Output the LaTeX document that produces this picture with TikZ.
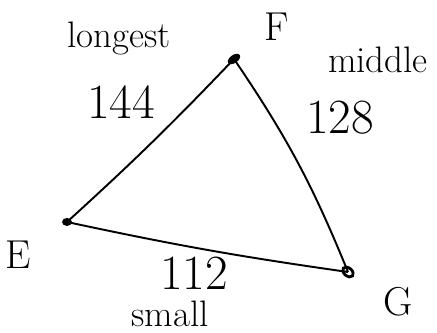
\documentclass[tikz,border=0pt]{standalone}
\tikzset{
  vlab/.style={font=\fontsize{23}{25}\selectfont,inner sep=1pt},
  num/.style={font=\fontsize{28}{30}\selectfont,inner sep=1pt},
  word/.style={font=\fontsize{21}{23}\selectfont,inner sep=1pt},
  side/.style={line width=1.1pt}
}
\begin{document}
\begin{tikzpicture}[x=0.02cm,y=-0.02cm]
  \useasboundingbox (0,0) rectangle (437,333);
  \coordinate (E) at (67,222);
  \coordinate (F) at (234,59);
  \coordinate (G) at (348,272);
  \draw[side] (E) to[bend right=2] (F);
  \draw[side] (F) to[bend left=6] (G);
  \draw[side] (G) to[bend left=2] (E);
  \fill (E) ellipse (5 and 4);
  \fill[rotate around={35:(F)}] (F) ellipse (7 and 4);
  \draw[line width=1.6pt,rotate around={-40:(G)}] (G) ellipse (6 and 4);
  \node[vlab] (lE) at (18,255) {E};
  \node[vlab] (lF) at (277,27) {F};
  \node[vlab] (lG) at (398,302) {G};
  \node[word] (w1) at (119,38) {longest};
  \node[num] (n1) at (121,102) {144};
  \node[word] (w2) at (378,60) {middle};
  \node[num] (n2) at (340,118) {128};
  \node[num] (n3) at (194,273) {112};
  \node[word] (w3) at (170,314) {small};
\end{tikzpicture}
\end{document}
